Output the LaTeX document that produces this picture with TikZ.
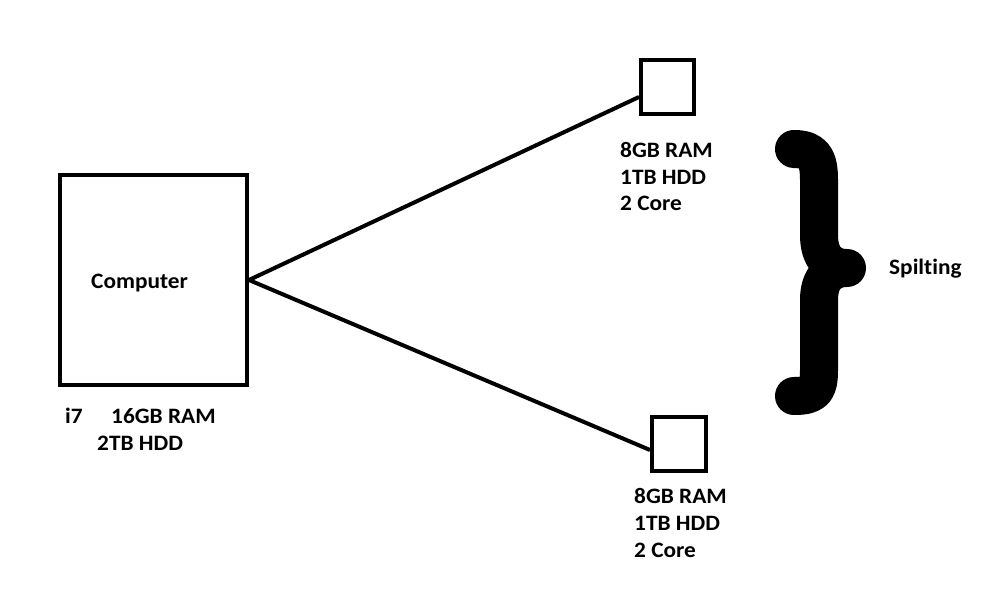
\documentclass[tikz,border=0pt]{standalone}
\usepackage{fontspec}
\setmainfont[Ligatures=NoCommon,FakeStretch=1.06]{Carlito}
\begin{document}
\begin{tikzpicture}[x=1pt,y=-1pt,
  box/.style={draw,line width=4pt,rectangle,inner sep=0pt},
  lbl/.style={anchor=base west,inner sep=0pt,font=\fontsize{22}{27}\selectfont\bfseries},
  conn/.style={line width=4pt}]
\useasboundingbox (0,0) rectangle (988,597);
\node[box,minimum width=53pt,minimum height=54pt] (s1) at (667.5,87) {};
\node[box,minimum width=54pt,minimum height=54pt] (s2) at (679,444) {};
\node[box,minimum width=187pt,minimum height=210pt] (comp) at (153.5,280) {};
\coordinate (s1in) at ([yshift=-10pt]s1.west);
\coordinate (s2in) at ([yshift=-6pt]s2.west);
\draw[conn] (comp.east) -- (s1in);
\draw[conn] (comp.east) -- (s2in);
\node[lbl] (tc) at (91,288) {Computer};
\node[lbl] (ti7) at (65,423) {i7};
\node[lbl] (tram) at (111,423) {16GB RAM};
\node[lbl] (thdd) at (97,450) {2TB HDD};
\node[lbl] (a1) at (620,157) {8GB RAM};
\node[lbl] (a2) at (620,184) {1TB HDD};
\node[lbl] (a3) at (620,210) {2 Core};
\node[lbl] (b1) at (634,503) {8GB RAM};
\node[lbl] (b2) at (634,530) {1TB HDD};
\node[lbl] (b3) at (634,557) {2 Core};
\node[lbl] (sp) at (889,274) {Spilting};
\draw[line width=38pt,line cap=round,line join=round]
  (794,149) .. controls (815,149) and (819,160) .. (819,180) -- (819,235)
  .. controls (819,258) and (830,268) .. (847,268)
  .. controls (830,268) and (819,278) .. (819,300) -- (819,370)
  .. controls (819,390) and (815,396) .. (794,396);
\end{tikzpicture}
\end{document}
